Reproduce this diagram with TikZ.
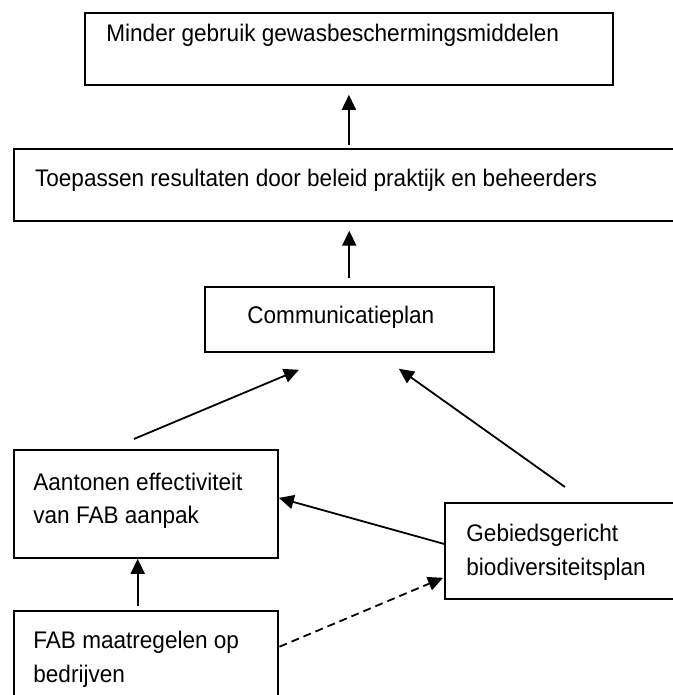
\documentclass[tikz,border=0pt]{standalone}
\usepackage{fontspec}
\setmainfont{Liberation Sans}[FakeStretch=0.94]
\usetikzlibrary{arrows.meta}

\tikzset{
  box/.style={draw, line width=0.9pt, anchor=north west, inner sep=0pt},
  txt/.style={anchor=base west, inner sep=0pt, align=left,
    font=\fontsize{12pt}{16.75pt}\selectfont},
  arr/.style={line width=0.9pt, -{Triangle[length=7.5pt,width=7pt]}},
}

\begin{document}
\begin{tikzpicture}[x=0.5pt,y=-0.5pt]
      \useasboundingbox (0,0) rectangle (673,695) ;
      % boxes
      \node[box, minimum width=264pt, minimum height=36pt] (gewas) at (84,12) {} ;
      \node[box, minimum width=331pt, minimum height=36pt] (toep) at (12.7,148) {} ;
      \node[box, minimum width=144.35pt, minimum height=32.65pt] (comm) at (204,285.7) {} ;
      \node[box, minimum width=132pt, minimum height=54pt] (aant) at (12.7,449) {} ;
      \node[box, minimum width=115.5pt, minimum height=47.85pt] (gebied) at (444,502) {} ;
      \node[box, minimum width=132pt, minimum height=45pt] (fab) at (12.7,610) {} ;
      % texts (base west = baseline of the last line)
      \node[txt] (gewas-t) at ([shift={(22,30)}]gewas.north west) {Minder gebruik gewasbeschermingsmiddelen} ;
      \node[txt] (toep-t) at ([shift={(22,39)}]toep.north west) {Toepassen resultaten door beleid praktijk en beheerders} ;
      \node[txt] (comm-t) at ([shift={(43,37.3)}]comm.north west) {Communicatieplan} ;
      \node[txt] (aant-t) at ([shift={(20.3,74.5)}]aant.north west) {Aantonen effectiviteit\\van FAB aanpak} ;
      \node[txt] (gebied-t) at ([shift={(22,73)}]gebied.north west) {Gebiedsgericht\\biodiversiteitsplan} ;
      \node[txt] (fab-t) at ([shift={(20.3,72)}]fab.north west) {FAB maatregelen op\\bedrijven} ;
      % arrows
      \draw[arr] ([shift={(0,59)}]gewas.south) -- ([shift={(0,9)}]gewas.south) ;
      \draw[arr] ([shift={(0,-7.7)}]comm.north) -- ([shift={(0,-55)}]comm.north) ;
      \draw[arr] ([shift={(-11.7,-10)}]aant.north) -- ([shift={(-50.35,17)}]comm.south) ;
      \draw[arr] ([shift={(121,-15)}]gebied.north west) -- ([shift={(49.65,16)}]comm.south) ;
      \draw[arr] ([shift={(0,-6.85)}]gebied.west) -- ([shift={(0.3,-6)}]aant.east) ;
      \draw[arr] ([shift={(125,-4)}]fab.north west) -- ([shift={(125,0)}]aant.south west) ;
      \draw[arr, dash pattern=on 4pt off 2.5pt] ([shift={(1,36.7)}]fab.north east) -- ([shift={(-1,-21.7)}]gebied.south west) ;
    \end{tikzpicture}
\end{document}
